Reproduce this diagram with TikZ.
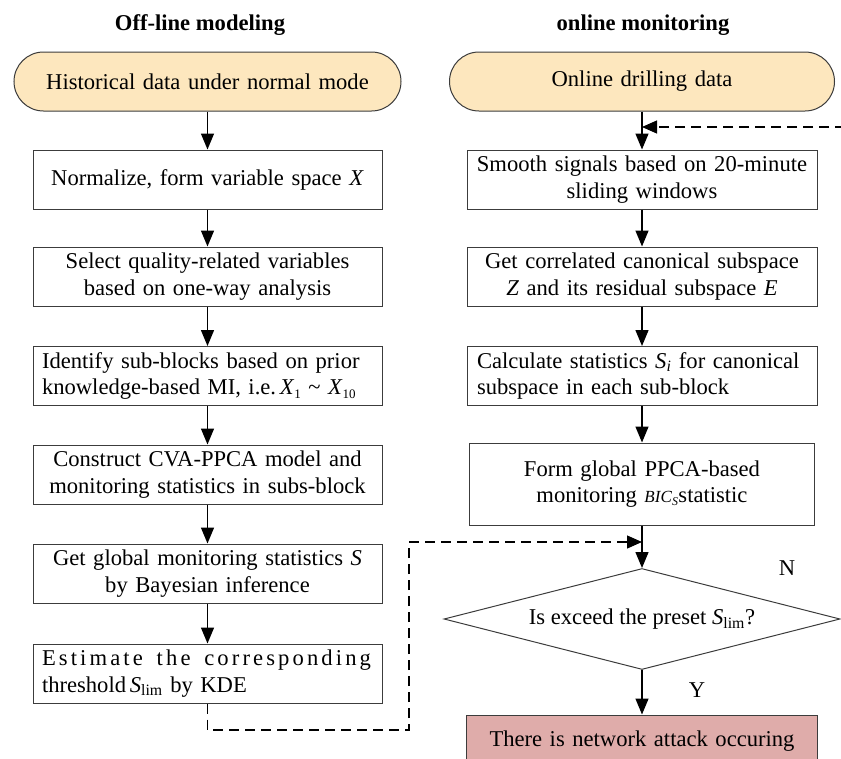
\documentclass[tikz,border=0pt]{standalone}
\usepackage{fontspec}
\setmainfont{Liberation Serif}
\usetikzlibrary{arrows.meta,shapes.geometric}
\definecolor{termfill}{RGB}{253,231,190}
\definecolor{alarmfill}{RGB}{223,172,170}
\definecolor{edgecol}{RGB}{60,60,60}
\newcommand{\mainfs}{\fontsize{22.6}{26.5}\selectfont}
\newcommand{\sbs}[1]{\textsubscript{#1}}
\newcommand{\sbx}[1]{\raisebox{-0.35ex}{\fontsize{13}{13}\selectfont #1}}
\begin{document}
\begin{tikzpicture}[x=1pt,y=-1pt,
  stepbox/.style={draw=edgecol,line width=1pt,minimum width=349pt,minimum height=59pt,
    inner xsep=9pt,inner ysep=0pt,text width=331pt,align=center,font=\mainfs},
  termbox/.style={stepbox,fill=termfill,rounded corners=29.5pt},
  arr/.style={line width=1.4pt,-{Triangle[width=13pt,length=16pt]}},
  dasharr/.style={line width=1.2pt,dash pattern=on 10pt off 6pt,-{Triangle[width=13pt,length=15pt]}},
  lbl/.style={font=\mainfs,inner sep=0pt}]
\useasboundingbox (0,0) rectangle (841,758);

% titles
\node[lbl,font=\mainfs\bfseries] (tL) at (200,25) {Off-line modeling};
\node[lbl,font=\mainfs\bfseries] (tR) at (643,25) {online monitoring};

% left column
\node[termbox,minimum width=387pt,text width=369pt] (tl) at (207.5,81.5) {Historical data under normal mode};
\node[stepbox] (l1) at (207.5,179.5) {Normalize, form variable space \textit{X}};
\node[stepbox] (l2) at (207.5,276.5) {Select quality-related variables\\based on one-way analysis};
\node[stepbox,align=left] (l3) at (207.5,376) {Identify sub-blocks based on prior\\knowledge-based MI, i.e.\,\textit{X}\sbx{1} \textasciitilde{} \textit{X}\sbx{10}};
\node[stepbox] (l4) at (207.5,474.5) {Construct CVA-PPCA model and\\monitoring statistics in subs-block};
\node[stepbox] (l5) at (207.5,573.5) {Get global monitoring statistics \textit{S}\\by Bayesian inference};
\node[stepbox,align=left] (l6) at (207.5,673.5) {\makebox[329pt][s]{E\hfil s\hfil t\hfil i\hfil m\hfil a\hfil t\hfil e\hfil~\hfil t\hfil h\hfil e\hfil~\hfil c\hfil o\hfil r\hfil r\hfil e\hfil s\hfil p\hfil o\hfil n\hfil d\hfil i\hfil n\hfil g}\\threshold\,\textit{S}\sbs{lim} by KDE};

% right column
\node[termbox,minimum width=385pt,text width=367pt] (tr) at (642,81.5) {Online drilling data};
\node[stepbox,minimum width=350pt,inner xsep=2pt,text width=346pt] (r1) at (642,179.5) {Smooth signals based on 20-minute\\sliding windows};
\node[stepbox,minimum width=350pt,inner xsep=2pt,text width=346pt] (r2) at (642,276.5) {Get correlated canonical subspace\\\textit{Z} and its residual subspace \textit{E}};
\node[stepbox,minimum width=350pt,inner xsep=10pt,text width=330pt,align=left] (r3) at (642,376) {Calculate statistics \textit{S}\sbs{\textit{i}} for canonical\\subspace in each sub-block};
\node[stepbox,minimum width=345pt,minimum height=82pt,text width=327pt] (r4) at (642,484) {Form global PPCA-based\\monitoring {\fontsize{17}{20}\selectfont\textit{BIC}\sbs{\textit{S}}}statistic};
\node[draw=edgecol,line width=1pt,shape=diamond,aspect=3.9,inner sep=0pt,minimum width=396pt,minimum height=101pt,font=\mainfs] (dia) at (642,619) {Is exceed the preset \textit{S}\sbs{lim}?};
\node[stepbox,fill=alarmfill,minimum width=351pt,minimum height=52pt] (fin) at (642,741) {There is network attack occuring};

\node[lbl] (N) at (787,568) {N};
\node[lbl] (Y) at (697,690) {Y};

% connectors
\draw[arr] (tl) -- (l1);
\draw[arr] (l1) -- (l2);
\draw[arr] (l2) -- (l3);
\draw[arr] (l3) -- (l4);
\draw[arr] (l4) -- (l5);
\draw[arr] (l5) -- (l6);

\draw[arr] (tr) -- (r1);
\draw[arr] (r1) -- (r2);
\draw[arr] (r2) -- (r3);
\draw[arr] (r3) -- (r4);
\draw[arr] (r4) -- (dia);
\draw[arr] (dia) -- (fin);

\coordinate (fb) at (845,127);
\draw[dasharr] (fb) -- (tr.south |- fb);

\coordinate (c1) at (409,730);
\coordinate (m) at (642,542);
\draw[dasharr] (l6.south) |- (c1) |- (m);
\end{tikzpicture}
\end{document}
